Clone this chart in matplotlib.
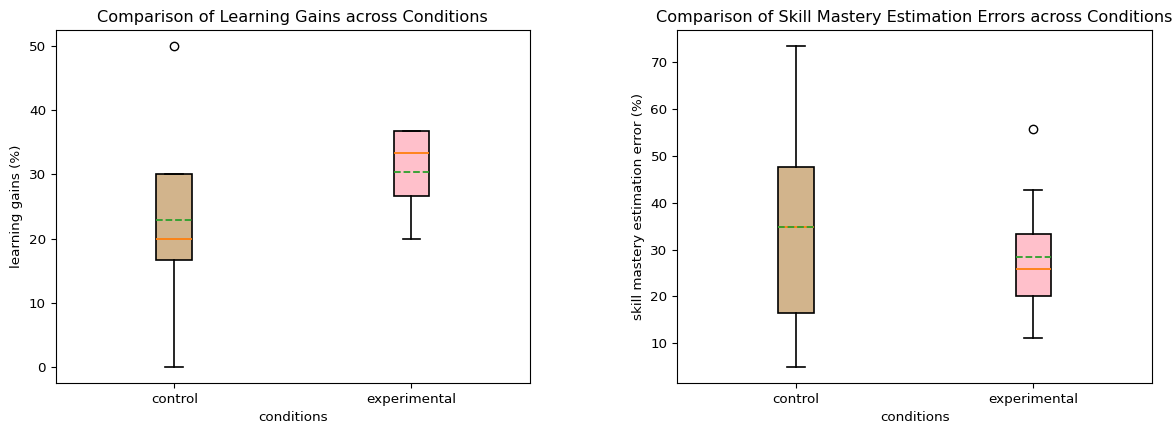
import matplotlib
matplotlib.use("Agg")
import matplotlib.pyplot as plt

conditions = ["control", "experimental"]
box_colors = ["tan", "pink"]

# Learning gains (%) summary statistics per condition
gain_q1 = [16.7, 26.7]
gain_med = [20.0, 33.3]
gain_q3 = [30.0, 36.7]
gain_whislo = [0.0, 20.0]
gain_whishi = [30.0, 36.7]
gain_mean = [22.9, 30.4]
gain_fliers = [[50.0], []]

# Skill mastery estimation error (%) summary statistics per condition
err_q1 = [16.5, 20.0]
err_med = [34.9, 25.9]
err_q3 = [47.7, 33.4]
err_whislo = [4.9, 11.0]
err_whishi = [73.5, 42.8]
err_mean = [34.9, 28.3]
err_fliers = [[], [55.7]]

plt.rcParams.update({
    "font.size": 9.7,
    "axes.titlesize": 11.6,
    "lines.linewidth": 1.2,
    "boxplot.medianprops.linewidth": 1.3,
    "boxplot.meanprops.linewidth": 1.3,
    "boxplot.boxprops.linewidth": 1.2,
    "boxplot.whiskerprops.linewidth": 1.2,
    "boxplot.capprops.linewidth": 1.2,
})


def build_stats(q1, med, q3, lo, hi, mean, fliers):
    return [dict(label=c, q1=a, med=b, q3=d, whislo=e, whishi=f, mean=g, fliers=h)
            for c, a, b, d, e, f, g, h in zip(conditions, q1, med, q3, lo, hi, mean, fliers)]


fig = plt.figure(figsize=(11.75, 4.26), dpi=100)
ax1 = fig.add_axes([55.7 / 1175, 1 - 383 / 426, (530 - 55.7) / 1175, 353 / 426])
ax2 = fig.add_axes([677.3 / 1175, 1 - 383 / 426, (1152 - 677.3) / 1175, 353 / 426])

panels = [
    (ax1, build_stats(gain_q1, gain_med, gain_q3, gain_whislo, gain_whishi, gain_mean, gain_fliers),
     "Comparison of Learning Gains across Conditions", "learning gains (%)"),
    (ax2, build_stats(err_q1, err_med, err_q3, err_whislo, err_whishi, err_mean, err_fliers),
     "Comparison of Skill Mastery Estimation Errors across Conditions", "skill mastery estimation error (%)"),
]

for ax, stats, title, ylabel in panels:
    bp = ax.bxp(stats, showmeans=True, meanline=True, patch_artist=True)
    for patch, col in zip(bp["boxes"], box_colors):
        patch.set_facecolor(col)
    ax.set_title(title)
    ax.set_xlabel("conditions")
    ax.set_ylabel(ylabel)

fig.savefig("out.png", dpi=100)
